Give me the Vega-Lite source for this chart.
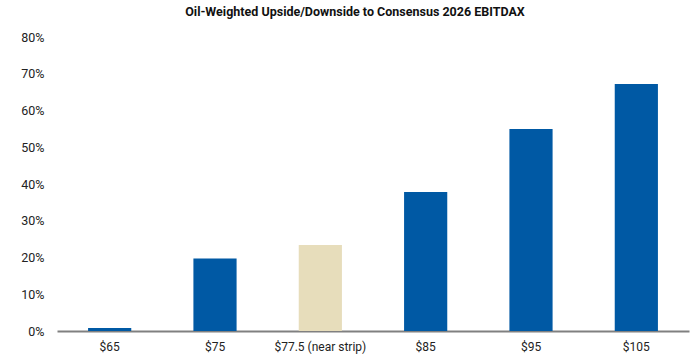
{
  "$schema": "https://vega.github.io/schema/vega-lite/v6.json",
  "width": 632,
  "height": 294,
  "autosize": {"type": "none"},
  "padding": {"left": 57, "top": 37, "right": 11, "bottom": 33},
  "background": "white",
  "title": {
    "text": "Oil-Weighted Upside/Downside to Consensus 2026 EBITDAX",
    "font": "Roboto, sans-serif",
    "fontSize": 12.5,
    "fontWeight": "bold",
    "color": "#111111",
    "anchor": "middle",
    "dx": -18,
    "offset": 13
  },
  "data": {
    "values": [
      {"price": "$65", "upside": 0.008, "type": "base"},
      {"price": "$75", "upside": 0.197, "type": "base"},
      {"price": "$77.5 (near strip)", "upside": 0.234, "type": "strip"},
      {"price": "$85", "upside": 0.378, "type": "base"},
      {"price": "$95", "upside": 0.55, "type": "base"},
      {"price": "$105", "upside": 0.672, "type": "base"}
    ]
  },
  "mark": {"type": "bar"},
  "encoding": {
    "x": {
      "field": "price",
      "type": "nominal",
      "sort": null,
      "scale": {"paddingInner": 0.59, "paddingOuter": 0.295},
      "axis": {
        "title": null,
        "labelAngle": 0,
        "ticks": false,
        "domainColor": "#808080",
        "domainWidth": 2,
        "labelFont": "Roboto, sans-serif",
        "labelFontSize": 12,
        "labelColor": "#222222",
        "labelPadding": 10
      }
    },
    "y": {
      "field": "upside",
      "type": "quantitative",
      "scale": {"domain": [0, 0.8]},
      "axis": {
        "title": null,
        "format": ".0%",
        "values": [0, 0.1, 0.2, 0.3, 0.4, 0.5, 0.6, 0.7, 0.8],
        "grid": false,
        "domain": false,
        "ticks": false,
        "labelFont": "Roboto, sans-serif",
        "labelFontSize": 12.5,
        "labelColor": "#222222",
        "labelPadding": 13
      }
    },
    "color": {
      "field": "type",
      "type": "nominal",
      "scale": {"domain": ["base", "strip"], "range": ["#0059A4", "#E7DDBB"]},
      "legend": null
    }
  },
  "config": {"view": {"stroke": null}}
}
